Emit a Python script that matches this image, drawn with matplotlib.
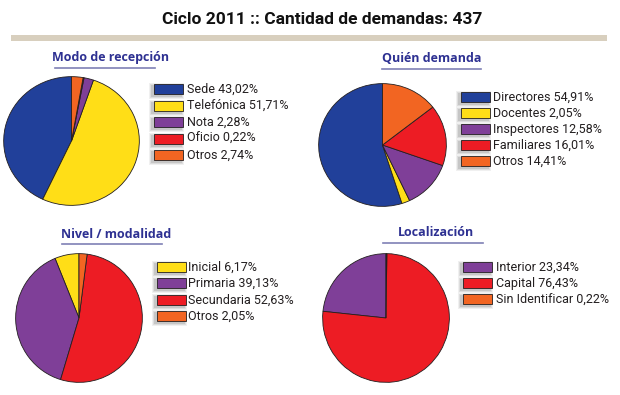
import matplotlib
matplotlib.use("Agg")
import matplotlib.pyplot as plt
from matplotlib.patches import Rectangle

W, H = 620, 395

# ---------------- data ----------------
main_title = "Ciclo 2011 :: Cantidad de demandas: 437"

modo_title = "Modo de recepción"
modo_labels = ["Sede", "Telefónica", "Nota", "Oficio", "Otros"]
modo_values = [43.02, 51.71, 2.28, 0.22, 2.74]

quien_title = "Quién demanda"
quien_labels = ["Directores", "Docentes", "Inspectores", "Familiares", "Otros"]
quien_values = [54.91, 2.05, 12.58, 16.01, 14.41]

nivel_title = "Nivel / modalidad"
nivel_labels = ["Inicial", "Primaria", "Secundaria", "Otros"]
nivel_values = [6.17, 39.13, 52.63, 2.05]

loc_title = "Localización"
loc_labels = ["Interior", "Capital", "Sin Identificar"]
loc_values = [23.34, 76.43, 0.22]

BLUE, YELLOW, PURPLE, RED, ORANGE = "#21409A", "#FFDE17", "#7F3F98", "#ED1C24", "#F26522"
modo_colors = [BLUE, YELLOW, PURPLE, RED, ORANGE]
quien_colors = [BLUE, YELLOW, PURPLE, RED, ORANGE]
nivel_colors = [YELLOW, PURPLE, RED, ORANGE]
loc_colors = [PURPLE, RED, ORANGE]

# ---------------- figure ----------------
fig = plt.figure(figsize=(W / 100, H / 100), dpi=100)
fig.patch.set_facecolor("white")

ov = fig.add_axes([0, 0, 1, 1])
ov.set_xlim(0, W)
ov.set_ylim(H, 0)
ov.axis("off")
ov.set_zorder(5)

LEG_FONT = ["Roboto", "DejaVu Sans"]
TITLE_FONT = ["Open Sans", "DejaVu Sans"]

ov.text(322, 19, main_title, ha="center", va="center", fontsize=12.5,
        fontweight="bold", family=["Roboto", "DejaVu Sans"],
        color="#111111")
ov.add_patch(Rectangle((11, 35), 596, 6, facecolor="#D8CFBE", edgecolor="none"))


def pie_panel(box, values, colors, title, tpos, uline, labels, leg_x, leg_y0, leg_dy, text_x):
    l, t, r, b = box
    ax = fig.add_axes([l / W, 1 - b / H, (r - l) / W, (b - t) / H])
    ax.pie(values, colors=colors, startangle=90, counterclock=True,
           wedgeprops=dict(edgecolor="#231F20", linewidth=0.6))
    ax.set_aspect("auto")
    ax.set_xlim(-1.01, 1.01)
    ax.set_ylim(-1.01, 1.01)
    ax.axis("off")
    ov.text(tpos[0], tpos[1], title, ha="center", va="center", fontsize=9,
            fontweight="bold", color="#2E3192", family=TITLE_FONT)
    ov.plot([uline[0], uline[1]], [uline[2], uline[2]], color="#7F80B5", lw=1.2)
    for i, (lab, val, col) in enumerate(zip(labels, values, colors)):
        y = leg_y0 + i * leg_dy
        bw, bh = 29, 10
        # soft drop shadow
        for k, a in ((3, 0.06), (2, 0.08), (1, 0.10)):
            ov.add_patch(Rectangle((leg_x - 2 - k, y - bh / 2 + 2 - k), bw + 2 * k, bh + 2 * k,
                                   facecolor="#000000", alpha=a, edgecolor="none"))
        ov.add_patch(Rectangle((leg_x, y - bh / 2), bw, bh, facecolor=col,
                               edgecolor="#231F20", linewidth=0.6))
        txt = f"{lab} {val:.2f}%".replace(".", ",")
        ov.text(text_x, y, txt, ha="left", va="center", fontsize=9,
                color="#231F20", family=LEG_FONT)


pie_panel((3, 76, 140, 206), modo_values, modo_colors, modo_title,
          (111, 57), (55, 155, 68), modo_labels, 154, 89, 16.5, 187)
pie_panel((318, 83, 447, 207), quien_values, quien_colors, quien_title,
          (432, 59), (382, 481, 69), quien_labels, 461, 97, 16, 493)
pie_panel((15, 253, 143, 383), nivel_values, nivel_colors, nivel_title,
          (116, 234), (62, 162, 244), nivel_labels, 157, 267, 16.4, 188)
pie_panel((322, 253, 450, 383), loc_values, loc_colors, loc_title,
          (436, 233), (383, 483, 243), loc_labels, 463, 267, 16, 496)

fig.savefig("out.png", dpi=100, facecolor="white")
